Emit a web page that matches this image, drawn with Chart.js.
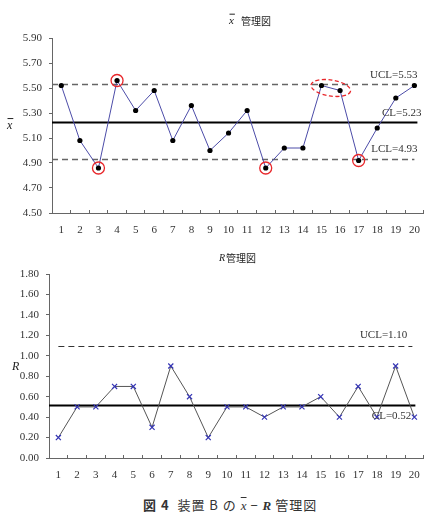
<!DOCTYPE html>
<html>
<head>
<meta charset="utf-8">
<script src="https://cdn.jsdelivr.net/npm/chart.js"></script>
<style>
    body { margin: 0; background: #fff; }
    #wrap { position: relative; width: 434px; height: 522px; }
    .box { position: absolute; left: 0; width: 434px; height: 245px; }
    #caption {
        position: absolute; left: 143px; top: 495px; white-space: nowrap;
        font-family: "Noto Sans CJK JP", sans-serif; font-size: 13px; color: #333; letter-spacing: 1px;
    }
    #caption .ov { font-family: "Liberation Serif", serif; font-style: italic; text-decoration: overline; letter-spacing: 0; }
    #caption .it { font-family: "Liberation Serif", serif; font-style: italic; font-weight: bold; letter-spacing: 0; }
</style>
</head>
<body>
<div id="wrap">
    <div class="box" style="top:0"><canvas id="xbarChart"></canvas></div>
    <div class="box" style="top:245px"><canvas id="rangeChart"></canvas></div>
    <div id="caption"><b>図 4</b>&nbsp; 装置 B の <span class="ov">x</span> − <span class="it">R</span> 管理図</div>
</div>
<script>
// Sample numbers (x axis)
const samples = ['1', '2', '3', '4', '5', '6', '7', '8', '9', '10',
                 '11', '12', '13', '14', '15', '16', '17', '18', '19', '20'];

// x-bar chart values
const xbarValues = [5.52, 5.08, 4.86, 5.56, 5.32, 5.48, 5.08, 5.36, 5.00, 5.14,
                    5.32, 4.86, 5.02, 5.02, 5.52, 5.48, 4.92, 5.18, 5.42, 5.52];
const xbarTicks = [4.50, 4.70, 4.90, 5.10, 5.30, 5.50, 5.70, 5.90];
const xbarLimits = [5.53, 5.23, 4.93]; // UCL, CL, LCL

// R chart values
const rangeValues = [0.20, 0.50, 0.50, 0.70, 0.70, 0.30, 0.90, 0.60, 0.20, 0.50,
                     0.50, 0.40, 0.50, 0.50, 0.60, 0.40, 0.70, 0.40, 0.90, 0.40];
const rangeTicks = [0.00, 0.20, 0.40, 0.60, 0.80, 1.00, 1.20, 1.40, 1.60, 1.80];
const rangeLimits = [1.10, 0.52]; // UCL, CL

// Out-of-control points marked on the x-bar chart
const circledSamples = [3, 4, 12, 17];
const ringedPair = [15, 16];

const SERIF = '"Liberation Serif", "DejaVu Serif", serif';
const CJK = '"Noto Sans CJK JP", sans-serif';

// Draw a text with an overline (x-bar)
function drawBarX(ctx, x, y, size) {
    ctx.save();
    ctx.font = 'italic ' + size + 'px ' + SERIF;
    ctx.textAlign = 'left';
    ctx.textBaseline = 'middle';
    ctx.fillStyle = '#222';
    ctx.fillText('x', x, y);
    const w = ctx.measureText('x').width;
    ctx.strokeStyle = '#222';
    ctx.lineWidth = 1;
    ctx.beginPath();
    ctx.moveTo(x + 0.5, y - size * 0.62);
    ctx.lineTo(x + w + 1, y - size * 0.62);
    ctx.stroke();
    ctx.restore();
    return w;
}

// Control limit lines, labels, titles and marks
const decorations = {
    id: 'decorations',
    beforeDatasetsDraw(chart, args, opts) {
        const ctx = chart.ctx;
        const xs = chart.scales.x, ys = chart.scales.y;
        opts.lines.forEach(function(l) {
            const yy = Math.round(ys.getPixelForValue(l.value)) + 0.5;
            const x1 = l.from === 'axis' ? chart.chartArea.left : xs.getPixelForValue(0) + l.startOff;
            const x2 = xs.getPixelForValue(samples.length - 1) + l.endOff;
            ctx.save();
            ctx.strokeStyle = l.color;
            ctx.lineWidth = l.width;
            ctx.setLineDash(l.dash);
            ctx.beginPath();
            ctx.moveTo(x1, yy);
            ctx.lineTo(x2, yy);
            ctx.stroke();
            ctx.restore();
        });
    },
    afterDatasetsDraw(chart, args, opts) {
        const ctx = chart.ctx;
        const xs = chart.scales.x, ys = chart.scales.y;
        const lastX = xs.getPixelForValue(samples.length - 1);

        // limit labels
        ctx.save();
        ctx.font = '11px ' + SERIF;
        ctx.fillStyle = '#333';
        ctx.textAlign = 'right';
        ctx.textBaseline = 'middle';
        opts.lines.forEach(function(l) {
            ctx.fillText(l.label, lastX + l.labelDx, ys.getPixelForValue(l.value) + l.labelDy);
        });
        ctx.restore();

        // red circles around points
        const meta = chart.getDatasetMeta(0);
        (opts.circles || []).forEach(function(n) {
            const p = meta.data[n - 1];
            ctx.save();
            ctx.strokeStyle = '#e8262a';
            ctx.lineWidth = 1.3;
            ctx.beginPath();
            ctx.arc(p.x, p.y, 6, 0, Math.PI * 2);
            ctx.stroke();
            ctx.restore();
        });
        if (opts.ellipse) {
            const a = meta.data[opts.ellipse[0] - 1], b = meta.data[opts.ellipse[1] - 1];
            ctx.save();
            ctx.strokeStyle = '#e8262a';
            ctx.lineWidth = 1.3;
            ctx.setLineDash([4, 2.5]);
            ctx.beginPath();
            ctx.ellipse((a.x + b.x) / 2, (a.y + b.y) / 2, 20, 8, Math.atan2(b.y - a.y, b.x - a.x) * 0.6, 0, Math.PI * 2);
            ctx.stroke();
            ctx.restore();
        }

        // title
        ctx.save();
        const t = opts.title;
        let tx = t.x;
        if (t.bar) {
            tx += drawBarX(ctx, tx, t.y, 11) + 7;
        } else {
            ctx.font = 'italic 10px ' + SERIF;
            ctx.fillStyle = '#222';
            ctx.textBaseline = 'middle';
            ctx.fillText('R', tx, t.y);
            tx += ctx.measureText('R').width + 1;
        }
        ctx.font = '10px ' + CJK;
        ctx.fillStyle = '#222';
        ctx.textBaseline = 'middle';
        ctx.textAlign = 'left';
        ctx.fillText('管理図', tx, t.y);
        ctx.restore();

        // y axis label
        const yl = opts.yLabel;
        if (yl.bar) {
            drawBarX(ctx, yl.x, yl.y, 12);
        } else {
            ctx.save();
            ctx.font = 'italic 12px ' + SERIF;
            ctx.fillStyle = '#222';
            ctx.textBaseline = 'middle';
            ctx.fillText('R', yl.x, yl.y);
            ctx.restore();
        }
    }
};

// Shared axis options
function makeScales(ticks, yWidth) {
    return {
        x: {
            type: 'category',
            offset: true,
            afterFit: function(s) { s.height = 32; },
            grid: { offset: true, drawOnChartArea: false, tickLength: -3, color: '#666', tickColor: '#666' },
            border: { color: '#666', width: 1 },
            ticks: { color: '#333', padding: 14, maxRotation: 0, font: { family: SERIF, size: 11 } }
        },
        y: {
            min: ticks[0],
            max: ticks[ticks.length - 1],
            afterFit: function(s) { s.width = yWidth; },
            afterBuildTicks: function(s) { s.ticks = ticks.map(v => ({ value: v })); },
            grid: { drawOnChartArea: false, tickLength: 3, color: '#666', tickColor: '#666' },
            border: { color: '#666', width: 1 },
            ticks: {
                color: '#333', padding: 7,
                font: { family: SERIF, size: 11 },
                callback: function(value) { return Number(value).toFixed(2); }
            }
        }
    };
}

function initializeXbarChart() {
    new Chart(document.getElementById('xbarChart'), {
        type: 'line',
        data: {
            labels: samples,
            datasets: [{
                data: xbarValues,
                borderColor: '#4c4ca8',
                borderWidth: 1,
                tension: 0,
                pointRadius: 2.6,
                pointBackgroundColor: '#000',
                pointBorderColor: '#000',
                pointBorderWidth: 0
            }]
        },
        options: {
            responsive: true,
            maintainAspectRatio: false,
            animation: false,
            layout: { padding: { top: 38, right: 1, left: 0, bottom: 0 } },
            plugins: {
                legend: { display: false },
                tooltip: { enabled: false },
                decorations: {
                    lines: [
                        { value: xbarLimits[0], color: '#666', width: 1.3, dash: [6, 4], from: 'axis', endOff: 0, label: 'UCL=5.53', labelDx: 3, labelDy: -9 },
                        { value: xbarLimits[1], color: '#000', width: 2, dash: [], from: 'axis', endOff: 3, label: 'CL=5.23', labelDx: 7, labelDy: -9 },
                        { value: xbarLimits[2], color: '#666', width: 1.3, dash: [6, 4], from: 'axis', endOff: 0, label: 'LCL=4.93', labelDx: 3, labelDy: -10 }
                    ],
                    circles: circledSamples,
                    ellipse: ringedPair,
                    title: { x: 229, y: 21, bar: true },
                    yLabel: { x: 7, y: 126, bar: true }
                }
            },
            scales: makeScales(xbarTicks, 52)
        },
        plugins: [decorations]
    });
}

function initializeRangeChart() {
    new Chart(document.getElementById('rangeChart'), {
        type: 'line',
        data: {
            labels: samples,
            datasets: [{
                data: rangeValues,
                borderColor: '#555',
                borderWidth: 1,
                tension: 0,
                pointStyle: 'crossRot',
                pointRadius: 3.6,
                pointBorderColor: '#3535b5',
                pointBorderWidth: 1.2
            }]
        },
        options: {
            responsive: true,
            maintainAspectRatio: false,
            animation: false,
            layout: { padding: { top: 29, right: 4, left: 0, bottom: 0 } },
            plugins: {
                legend: { display: false },
                tooltip: { enabled: false },
                decorations: {
                    lines: [
                        { value: rangeLimits[0], color: '#333', width: 1.2, dash: [6, 4], from: 'first', startOff: 0, endOff: -2, label: 'UCL=1.10', labelDx: -7, labelDy: -10 },
                        { value: rangeLimits[1], color: '#000', width: 2, dash: [], from: 'axis', endOff: 1, label: 'CL=0.52', labelDx: -3, labelDy: 11 }
                    ],
                    title: { x: 219, y: 13, bar: false },
                    yLabel: { x: 12, y: 122, bar: false }
                }
            },
            scales: makeScales(rangeTicks, 49)
        },
        plugins: [decorations]
    });
}

document.addEventListener('DOMContentLoaded', function() {
    initializeXbarChart();
    initializeRangeChart();
});
</script>
</body>
</html>
